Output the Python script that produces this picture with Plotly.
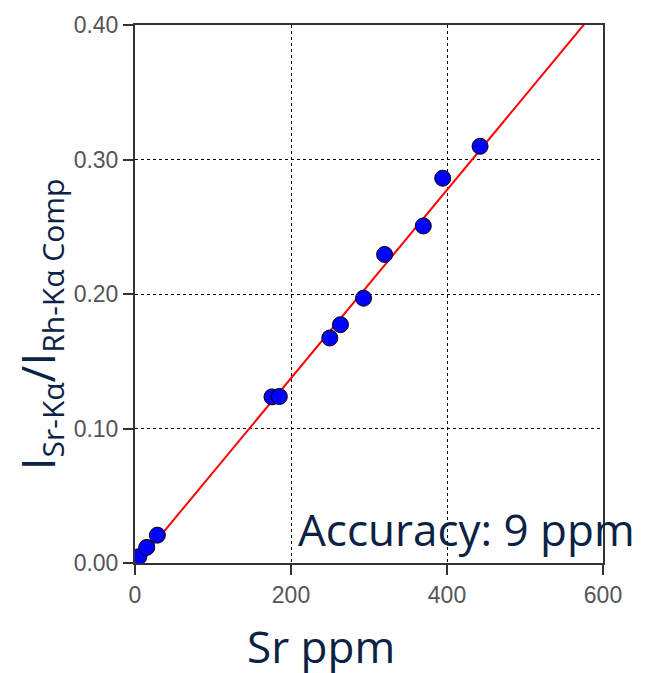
import plotly.graph_objects as go
import numpy as np

# Data
sr_ppm = [5, 15, 28.7, 175.6, 185, 249.7, 263.4, 293, 320, 369.6, 394.5, 442.4]
intensity_ratio = [0.0047, 0.0116, 0.0207, 0.1235, 0.1238, 0.1673, 0.1772, 0.1969,
                   0.2294, 0.2506, 0.2861, 0.3098]

fit_slope = 0.000700
fit_intercept = -0.0026
fit_x = [0, 600]

x_ticks = [0, 200, 400, 600]
y_ticks = [0.0, 0.1, 0.2, 0.3, 0.4]

navy = "#0b2244"
fit_y = [fit_intercept + fit_slope * v for v in fit_x]

fig = go.Figure()
fig.add_trace(go.Scatter(x=fit_x, y=fit_y, mode="lines",
                         line=dict(color="#ff0000", width=2), hoverinfo="skip",
                         showlegend=False))
fig.add_trace(go.Scatter(x=sr_ppm, y=intensity_ratio, mode="markers",
                         marker=dict(size=16, color="#0000ff",
                                     line=dict(color="#000000", width=1)),
                         showlegend=False))

axis_common = dict(
    showline=True, linecolor="#333333", linewidth=2, mirror=True,
    ticks="outside", ticklen=10, tickwidth=1.5, tickcolor="#333333",
    showgrid=True, gridcolor="#000000", gridwidth=1, griddash="dot",
    zeroline=False,
    tickfont=dict(family="Liberation Sans", size=23, color="#555555"),
)

fig.update_layout(
    width=646, height=673,
    margin=dict(l=135, r=43, t=22, b=110),
    paper_bgcolor="white", plot_bgcolor="white",
    xaxis=dict(range=[0, 600], tickvals=x_ticks, ticktext=[str(v) for v in x_ticks],
               **axis_common),
    yaxis=dict(range=[0, 0.40], tickvals=y_ticks, tickformat=".2f", **axis_common),
    font=dict(family="Open Sans", color=navy),
    annotations=[
        dict(text="Sr ppm", xref="paper", yref="paper", x=0.397, y=-0.154,
             xanchor="center", yanchor="middle", showarrow=False,
             font=dict(family="Open Sans", size=44, color=navy)),
        dict(text="Accuracy: 9 ppm", xref="paper", yref="paper", x=0.709, y=0.064,
             xanchor="center", yanchor="middle", showarrow=False,
             font=dict(family="Open Sans", size=44, color=navy)),
        dict(text=("I<sub><span style='font-size:30px'>Sr-Kα</span></sub>/"
                   "I<sub><span style='font-size:30px'>Rh-Kα Comp</span></sub>"),
             xref="paper", yref="paper", x=-0.203, y=0.4436, textangle=-90,
             xanchor="center", yanchor="middle", showarrow=False,
             font=dict(family="Open Sans", size=46, color=navy)),
    ],
)

fig.write_html("out.html")
